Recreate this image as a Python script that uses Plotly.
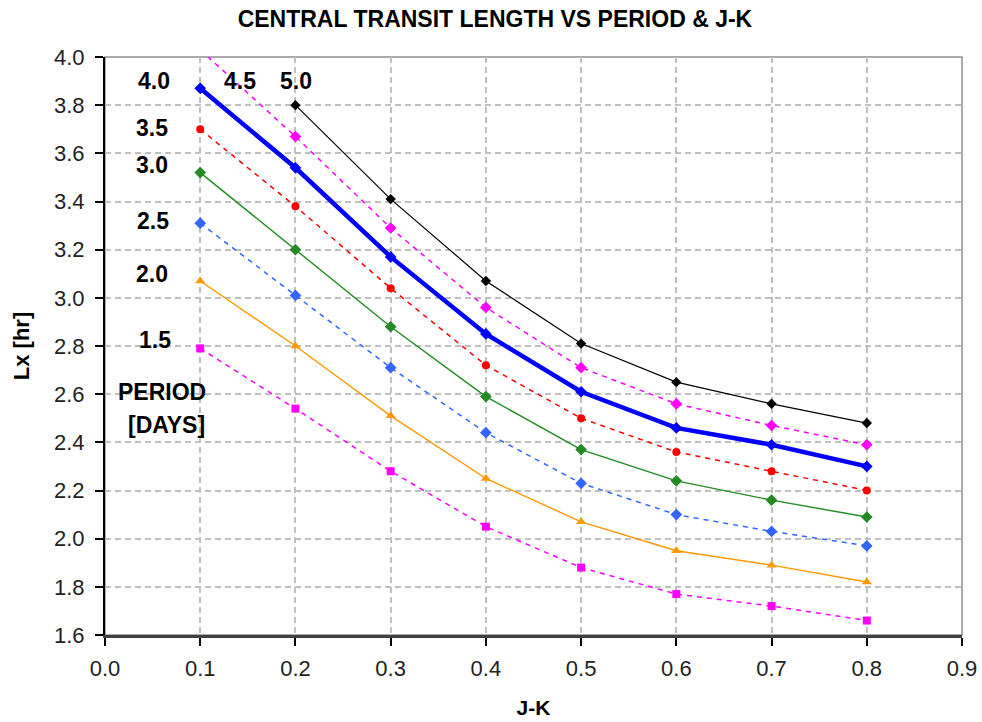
import plotly.graph_objects as go

# ---- data ----
jk = [0.1, 0.2, 0.3, 0.4, 0.5, 0.6, 0.7, 0.8]
period_labels = ["1.5", "2.0", "2.5", "3.0", "3.5", "4.0", "4.5", "5.0"]
lx_p15 = [2.79, 2.54, 2.28, 2.05, 1.88, 1.77, 1.72, 1.66]
lx_p20 = [3.07, 2.80, 2.51, 2.25, 2.07, 1.95, 1.89, 1.82]
lx_p25 = [3.31, 3.01, 2.71, 2.44, 2.23, 2.10, 2.03, 1.97]
lx_p30 = [3.52, 3.20, 2.88, 2.59, 2.37, 2.24, 2.16, 2.09]
lx_p35 = [3.70, 3.38, 3.04, 2.72, 2.50, 2.36, 2.28, 2.20]
lx_p40 = [3.87, 3.54, 3.17, 2.85, 2.61, 2.46, 2.39, 2.30]
lx_p45 = [4.03, 3.67, 3.29, 2.96, 2.71, 2.56, 2.47, 2.39]
lx_p50 = [None, 3.80, 3.41, 3.07, 2.81, 2.65, 2.56, 2.48]
x_ticks = [0.0, 0.1, 0.2, 0.3, 0.4, 0.5, 0.6, 0.7, 0.8, 0.9]
y_ticks = [1.6, 1.8, 2.0, 2.2, 2.4, 2.6, 2.8, 3.0, 3.2, 3.4, 3.6, 3.8, 4.0]

series = [lx_p15, lx_p20, lx_p25, lx_p30, lx_p35, lx_p40, lx_p45, lx_p50]

# ---- styles ----
styles = [
    dict(color="#FF00FF", width=1.5, dash="5px,5px", symbol="square", size=8),
    dict(color="#FF9900", width=1.4, dash="solid", symbol="triangle-up", size=9),
    dict(color="#3366FF", width=1.5, dash="5px,5px", symbol="diamond", size=9),
    dict(color="#228B22", width=1.4, dash="solid", symbol="diamond", size=9),
    dict(color="#FF0000", width=1.5, dash="5px,5px", symbol="circle", size=8),
    dict(color="#0000FF", width=4.5, dash="solid", symbol="diamond", size=9),
    dict(color="#FF00FF", width=1.5, dash="5px,5px", symbol="diamond", size=9),
    dict(color="#000000", width=1.2, dash="solid", symbol="diamond", size=8),
]

fig = go.Figure()
for name, ys, st in zip(period_labels, series, styles):
    fig.add_trace(go.Scatter(
        x=jk, y=ys, mode="lines+markers", name=name,
        line=dict(color=st["color"], width=st["width"], dash=st["dash"]),
        marker=dict(symbol=st["symbol"], size=st["size"], color=st["color"]),
        showlegend=False, connectgaps=False,
    ))

# period labels placed in the empty left region (positions in axis units)
label_pos = [
    ("4.0", 0.0512, 3.901), ("4.5", 0.142, 3.901), ("5.0", 0.2008, 3.901),
    ("3.5", 0.0497, 3.705), ("3.0", 0.0497, 3.551), ("2.5", 0.0502, 3.321),
    ("2.0", 0.0497, 3.099), ("1.5", 0.0528, 2.825),
    ("PERIOD", 0.0602, 2.607), ("[DAYS]", 0.0644, 2.472),
]
for txt, ax_, ay_ in label_pos:
    fig.add_annotation(x=ax_, y=ay_, xref="x", yref="y", text="<b>%s</b>" % txt,
                       showarrow=False, xanchor="center", yanchor="middle",
                       font=dict(family="Liberation Sans, Arial", size=23, color="#000000"))

# outer frame (gray) on top/right
fig.add_shape(type="rect", xref="paper", yref="paper", x0=0, y0=0, x1=1, y1=1,
              line=dict(color="#909090", width=1.5), layer="below")

grid = dict(showgrid=True, gridcolor="#C0C0C0", gridwidth=1.5, griddash="6px,4px")

fig.update_xaxes(range=[0, 0.9], tickvals=x_ticks, ticktext=["%.1f" % v for v in x_ticks],
                 showline=True, linecolor="#404040", linewidth=2.5,
                 ticks="outside", ticklen=8, tickwidth=1.5, tickcolor="#000000",
                 ticklabelstandoff=4, automargin=False,
                 tickfont=dict(family="Liberation Sans, Arial", size=22, color="#222222"),
                 title=dict(text="<b>J-K</b>", font=dict(family="Liberation Sans, Arial", size=21, color="#000000"),
                            standoff=21),
                 zeroline=False, **grid)
fig.update_yaxes(range=[1.6, 4.0], tickvals=y_ticks, ticktext=["%.1f" % v for v in y_ticks],
                 showline=True, linecolor="#000000", linewidth=2,
                 ticks="outside", ticklen=8, tickwidth=1.5, tickcolor="#000000",
                 ticklabelstandoff=6, automargin=False,
                 tickfont=dict(family="Liberation Sans, Arial", size=22, color="#222222"),
                 title=dict(text="<b>Lx [hr]</b>", font=dict(family="Liberation Sans, Arial", size=22, color="#000000"),
                            standoff=18),
                 zeroline=False, **grid)

fig.update_layout(
    width=982, height=722,
    margin=dict(l=105, r=20, t=57, b=87),
    paper_bgcolor="#FFFFFF", plot_bgcolor="#FFFFFF",
    title=dict(text="<b>CENTRAL TRANSIT LENGTH VS PERIOD &amp; J-K</b>",
               x=0.504, xref="container", y=1 - 19 / 722, yref="container",
               xanchor="center", yanchor="middle", automargin=False,
               font=dict(family="Liberation Sans, Arial", size=23, color="#000000")),
)

fig.write_html("out.html", config={"displayModeBar": False},
               post_script="document.body.style.margin='0';document.body.style.overflow='hidden';")
